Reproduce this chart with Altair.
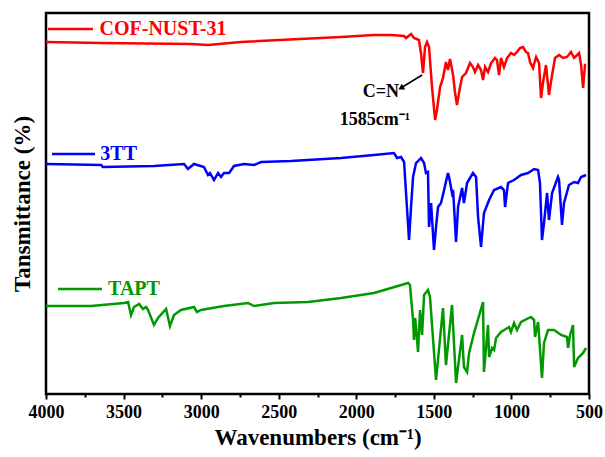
import altair as alt
import pandas as pd

# ---- spectra (wavenumber in cm-1, transmittance in arbitrary offset units) ----
wn_cof = [4000, 3645, 3065, 2956, 2743, 2098, 1886, 1776, 1692, 1679, 1647, 1628, 1596, 1583, 1570,
          1557, 1544, 1531, 1512, 1492, 1480, 1460, 1441, 1422, 1409, 1396, 1376, 1364, 1351, 1331,
          1318, 1293, 1267, 1248, 1235, 1215, 1196, 1183, 1170, 1151, 1131, 1106, 1093, 1080, 1067,
          1048, 1028, 1003, 983, 964, 945, 925, 906, 893, 880, 861, 841, 822, 809, 796,
          777, 758, 738, 719, 693, 667, 642, 616, 596, 564, 551, 538, 526, 519]
t_cof = [351, 350, 349, 348, 351, 356, 358, 358, 357, 355, 359, 355, 353, 340, 320,
         346, 351, 346, 306, 273, 283, 306, 315, 331, 323, 334, 318, 301, 288, 306,
         316, 320, 330, 326, 321, 328, 323, 313, 326, 321, 330, 335, 333, 318, 335,
         326, 335, 340, 338, 341, 345, 346, 341, 340, 331, 325, 336, 330, 295, 311,
         328, 298, 318, 335, 338, 335, 336, 341, 335, 340, 328, 305, 328, 328]

wn_3tt = [4000, 3645, 3633, 3304, 3110, 3085, 3046, 2982, 2956, 2943, 2917, 2891, 2872, 2853, 2820,
          2788, 2724, 2659, 2614, 2421, 2098, 1886, 1757, 1737, 1712, 1692, 1667, 1660, 1647, 1634,
          1615, 1583, 1563, 1551, 1538, 1531, 1518, 1499, 1486, 1473, 1454, 1434, 1409, 1402, 1383,
          1376, 1357, 1344, 1318, 1306, 1286, 1248, 1228, 1215, 1196, 1177, 1144, 1112, 1067, 1048,
          1041, 1022, 983, 938, 893, 854, 828, 816, 803, 790, 770, 758, 738, 700, 693,
          674, 661, 629, 596, 571, 551, 519]
t_3tt = [229, 228, 226, 227, 229, 224, 229, 226, 218, 220, 213, 220, 216, 220, 220,
         227, 229, 228, 231, 232, 235, 238, 240, 235, 236, 231, 170, 153, 186, 216,
         230, 235, 230, 220, 221, 166, 190, 143, 166, 186, 190, 203, 220, 216, 200,
         203, 151, 186, 205, 190, 210, 220, 216, 176, 146, 180, 193, 203, 206, 203,
         186, 210, 213, 218, 220, 224, 223, 210, 153, 170, 200, 173, 200, 216, 213,
         168, 190, 208, 211, 210, 216, 218]

wn_tapt = [4000, 3710, 3497, 3471, 3452, 3433, 3400, 3375, 3355, 3342, 3304, 3278, 3226, 3201, 3175,
           3130, 3046, 3027, 3001, 2853, 2698, 2659, 2530, 2311, 2098, 1886, 1666, 1654, 1634, 1628,
           1621, 1615, 1602, 1589, 1576, 1563, 1538, 1525, 1486, 1441, 1422, 1383, 1357, 1318, 1306,
           1286, 1273, 1241, 1183, 1177, 1151, 1144, 1125, 1112, 1099, 1067, 1015, 1003, 983, 964,
           938, 874, 854, 848, 828, 803, 790, 764, 725, 680, 642, 635, 622, 603, 596,
           571, 538, 519]
t_tapt = [87, 87, 90, 91, 78, 86, 89, 84, 86, 83, 68, 75, 84, 67, 78,
          83, 86, 81, 83, 87, 90, 87, 90, 91, 95, 100, 110, 108, 73, 53,
          75, 66, 41, 83, 58, 98, 103, 96, 13, 85, 28, 88, 10, 58, 26,
          21, 40, 60, 91, 21, 68, 36, 45, 43, 55, 61, 66, 61, 70, 63,
          71, 76, 73, 56, 71, 15, 50, 63, 63, 58, 56, 45, 58, 68, 26,
          35, 40, 45]

series_names = ["COF-NUST-31", "3TT", "TAPT"]
series_colors = ["#ff0000", "#0000ff", "#009900"]

# in-plot legend entries: line start, line end, text start, level
legend_wn1 = [3987, 3961, 3923]
legend_wn2 = [3697, 3684, 3639]
legend_wn_text = [3655, 3650, 3600]
legend_t = [364, 239, 104]

x_ticks = [4000, 3750, 3500, 3250, 3000, 2750, 2500, 2250, 2000, 1750, 1500, 1250, 1000, 750, 500]

# annotation
ann_arrow_from = (1576, 318)
ann_arrow_to = (1712, 305)
ann_label = ("C=N", 1841, 301)
ann_label2 = ("1585cm⁻¹", 1879, 273)

rows = []
for name, ws, ts in [(series_names[0], wn_cof, t_cof), (series_names[1], wn_3tt, t_3tt), (series_names[2], wn_tapt, t_tapt)]:
    for w, t in zip(ws, ts):
        rows.append({"series": name, "wavenumber": w, "T": t})
df = pd.DataFrame(rows)

leg = pd.DataFrame({"series": series_names, "wavenumber": legend_wn1, "wn2": legend_wn2,
                    "wt": legend_wn_text, "T": legend_t})
arrow = pd.DataFrame({"wavenumber": [ann_arrow_from[0]], "wn2": [ann_arrow_to[0]],
                      "T": [ann_arrow_from[1]], "T2": [ann_arrow_to[1]]})
head = pd.DataFrame({"wavenumber": [ann_arrow_to[0]], "T": [ann_arrow_to[1]]})
labels = pd.DataFrame({"txt": [ann_label[0], ann_label2[0]], "wavenumber": [ann_label[1], ann_label2[1]],
                       "T": [ann_label[2], ann_label2[2]]})

FONT = "Liberation Serif"
XTITLE = "Wavenumbers (cm⁻¹)"
YTITLE = "Tansmittance (%)"

x_scale = alt.Scale(domain=[4000, 500], nice=False, zero=False)
y_scale = alt.Scale(domain=[-1, 380], nice=False, zero=False)
color_scale = alt.Scale(domain=series_names, range=series_colors)

x_axis = alt.Axis(
    values=x_ticks, format="d",
    labelExpr="datum.value % 500 === 0 ? datum.label : ''",
    tickSize={"condition": {"test": "datum.value % 500 === 0", "value": 5}, "value": 3},
    tickWidth=2, tickColor="black", domain=False, grid=False,
    labelFont=FONT, labelFontSize=18, labelFontWeight="bold", labelColor="black",
    labelPadding=4, labelFlush=False, labelOverlap=False, labelBound=False,
    titleFont=FONT, titleFontSize=23, titleFontWeight="bold", titleColor="black", titlePadding=5,
)
y_axis = alt.Axis(
    labels=False, ticks=False, domain=False, grid=False,
    titleFont=FONT, titleFontSize=23, titleFontWeight="bold", titleColor="black", titlePadding=12,
)


def X(field="wavenumber"):
    return alt.X(f"{field}:Q", scale=x_scale, axis=x_axis, title=XTITLE)


def Y(field="T"):
    return alt.Y(f"{field}:Q", scale=y_scale, axis=y_axis, title=YTITLE)


lines = alt.Chart(df).mark_line(strokeWidth=2.5, clip=True).encode(
    x=X(), y=Y(),
    color=alt.Color("series:N", scale=color_scale, legend=None),
    order=alt.Order("wavenumber:Q"),
)

leg_lines = alt.Chart(leg).mark_rule(strokeWidth=2.5).encode(
    x=X(), x2=alt.X2("wn2:Q"), y=Y(),
    color=alt.Color("series:N", scale=color_scale, legend=None),
)
leg_text = alt.Chart(leg).mark_text(align="left", baseline="middle", font=FONT, fontSize=20,
                                    fontWeight="bold").encode(
    x=X("wt"), y=Y(), text="series:N",
    color=alt.Color("series:N", scale=color_scale, legend=None),
)

arrow_line = alt.Chart(arrow).mark_rule(strokeWidth=1.5, color="black").encode(
    x=X(), x2=alt.X2("wn2:Q"), y=Y(), y2=alt.Y2("T2:Q"),
)
arrow_head = alt.Chart(head).mark_point(shape="triangle-up", angle=239, size=45, filled=True,
                                        color="black", opacity=1).encode(x=X(), y=Y())
ann_text = alt.Chart(labels).mark_text(align="center", baseline="middle", font=FONT, fontSize=18,
                                       fontWeight="bold", color="black").encode(
    x=X(), y=Y(), text="txt:N",
)

chart = alt.layer(lines, leg_lines, leg_text, arrow_line, arrow_head, ann_text).properties(
    width=543, height=381,
    autosize=alt.AutoSizeParams(type="none"),
    padding={"left": 46, "top": 13, "right": 16, "bottom": 63},
    background="white",
).configure_view(stroke="black", strokeWidth=2.5)

chart.save("out.html", embed_options={"renderer": "svg", "actions": False})
